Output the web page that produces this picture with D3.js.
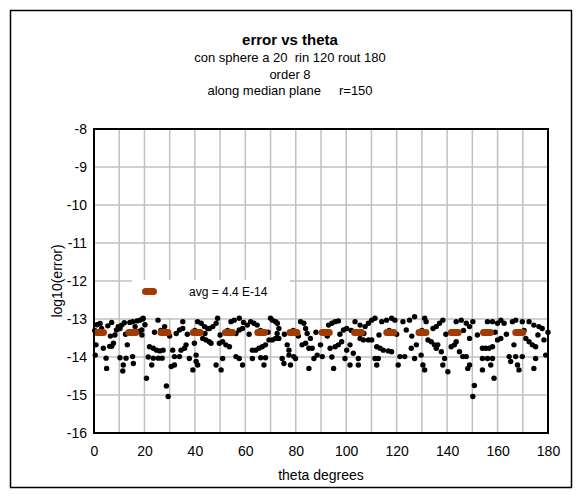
<!DOCTYPE html>
<html>
<head>
<meta charset="utf-8">
<script src="https://cdn.jsdelivr.net/npm/d3@7"></script>
<style>
  body { margin: 0; background: #fff; }
  text { font-family: "Liberation Sans", Arial, sans-serif; fill: #000; }
</style>
</head>
<body>
<svg id="chart" width="581" height="497"></svg>
<script>
// values
const thetaDeg = [
  0.3, 0.5, 0.8, 1.2, 1.8, 2.4, 3.0, 3.7, 4.8, 5.0, 5.5, 6.2, 6.5, 7.0, 7.0, 7.7, 8.3, 8.9, 9.6, 10.3,
  10.3, 11.0, 11.4, 11.6, 12.0, 12.5, 12.7, 13.2, 14.2, 15.3, 15.3, 15.6, 16.3, 17.0, 17.6, 18.2, 18.9, 19.0, 19.3, 19.5,
  20.2, 20.8, 21.5, 22.0, 22.9, 23.5, 23.5, 24.0, 24.8, 25.4, 25.5, 26.1, 26.5, 27.0, 27.4, 28.0, 28.7, 29.4,
  30.0, 30.6, 31.2, 31.9, 31.9, 32.6, 33.9, 33.9, 34.5, 35.2, 35.2, 35.9, 36.5, 37.0, 37.8, 39.2, 39.8, 40.0, 40.5, 40.5,
  41.1, 41.1, 42.5, 43.1, 43.8, 44.0, 44.4, 45.1, 45.7, 45.8, 46.4, 47.1, 48.4, 48.4, 49.0, 49.7, 50.0, 50.4, 51.0, 51.0,
  52.3, 53.0, 53.7, 54.3, 55.6, 56.3, 56.3, 57.6, 57.6, 57.6, 58.9, 58.9, 59.3,
  60.8, 61.5, 62.1, 62.8, 62.8, 63.4, 64.1, 64.7, 65.4, 66.0, 66.1, 66.7, 67.4, 68.0, 68.0, 69.0, 69.4, 70.0, 70.7, 70.7,
  72.0, 72.0, 72.6, 72.7, 73.3, 73.3, 74.6, 75.3, 75.5, 76.6, 77.3, 77.3, 77.9, 79.0, 79.2, 79.9, 81.0, 81.9, 82.5, 83.2,
  83.9, 83.9, 84.5, 85.2, 85.2, 85.8, 86.5, 87.2, 88.0, 88.5, 89.8, 90.5,
  91.6, 92.5, 93.0, 93.6, 94.3, 94.3, 95.0, 95.6, 95.6, 96.9, 96.9, 97.5, 98.2, 98.9, 99.5, 100.2, 100.2, 101.5, 101.5, 102.0,
  102.8, 103.5, 104.8, 104.8, 105.5, 105.5, 106.8, 107.0, 107.5, 108.8, 108.8, 110.1, 110.1, 111.4, 111.4, 112.1, 112.1, 112.7, 113.0, 113.4,
  114.1, 114.7, 116.0, 116.7, 117.0, 118.0, 118.0, 119.3, 120.0, 120.6, 121.3,
  122.5, 123.2, 123.8, 125.1, 125.8, 126.0, 127.1, 127.1, 127.8, 129.7, 130.0, 130.4, 131.1, 131.1, 131.7, 132.4, 133.7, 134.4, 135.0, 135.7,
  135.7, 136.3, 137.0, 137.7, 138.3, 138.3, 139.0, 139.5, 140.3, 141.6, 142.0, 142.9, 143.6, 143.6, 144.9, 145.6, 146.2, 146.5, 147.6, 147.6,
  148.2, 148.9, 148.9, 148.9, 150.2, 150.2, 150.8,
  152.0, 154.0, 154.0, 154.0, 155.3, 156.0, 156.0, 156.6, 157.3, 158.0, 158.0, 158.0, 158.6, 159.0, 160.0, 160.0, 161.3, 161.3, 162.6, 163.5,
  164.6, 165.2, 165.9, 166.5, 167.2, 167.2, 167.9, 168.5, 169.8, 169.8, 170.5, 171.2, 172.5, 172.5, 173.8, 174.4, 174.4, 175.1, 175.1, 176.0,
  176.4, 177.7, 178.4, 179.1, 180.0
];
const logError = [
  -13.30, -13.95, -13.68, -13.15, -13.35, -13.12, -13.25, -13.77, -14.03, -14.30, -13.18, -13.72, -13.45, -13.09, -13.72, -13.64, -13.42, -13.29, -13.20, -13.25,
  -14.02, -13.16, -14.37, -14.21, -13.10, -13.40, -14.03, -13.68, -13.09, -13.07, -13.99, -14.17, -13.20, -13.05, -13.33, -13.03, -13.29, -13.42, -13.00, -12.98,
  -13.15, -14.56, -14.00, -13.73, -14.21, -13.77, -14.03, -13.35, -13.82, -13.03, -14.03, -13.84, -13.30, -14.03, -13.82, -13.20, -14.76, -15.04,
  -13.45, -14.25, -13.82, -14.21, -13.99, -13.38, -13.29, -13.99, -13.82, -13.25, -13.07, -13.77, -13.68, -13.40, -14.04, -14.34, -13.64, -13.30, -13.95, -14.12,
  -14.21, -13.07, -13.11, -13.51, -13.20, -13.38, -13.55, -13.25, -13.60, -13.25, -13.64, -13.20, -13.11, -14.21, -12.98, -13.64, -13.42, -14.34, -13.60, -14.04,
  -13.68, -13.30, -13.73, -13.07, -13.03, -13.99, -13.38, -12.98, -14.04, -13.29, -14.21, -13.25, -13.09,
  -13.16, -13.40, -13.07, -13.82, -14.04, -13.11, -13.82, -13.16, -13.77, -13.30, -14.02, -13.73, -14.21, -13.68, -14.02, -13.35, -13.55, -12.98, -13.03, -13.55,
  -13.07, -13.51, -13.38, -13.11, -13.51, -13.25, -14.04, -14.17, -13.40, -13.68, -13.82, -13.95, -14.21, -13.30, -13.99, -14.04, -13.45, -13.07, -13.68, -13.11,
  -13.25, -13.64, -13.38, -13.77, -14.30, -13.51, -13.77, -14.04, -13.35, -13.95, -13.68, -13.99,
  -13.38, -13.45, -13.16, -13.77, -13.11, -14.00, -14.30, -13.07, -13.73, -13.05, -13.68, -13.40, -13.60, -13.29, -14.04, -13.25, -13.82, -13.68, -14.21, -13.30,
  -13.90, -13.07, -14.04, -14.21, -13.16, -13.51, -13.55, -13.38, -13.20, -13.11, -13.55, -13.03, -13.55, -12.98, -14.04, -14.21, -13.73, -14.04, -13.42, -13.77,
  -13.07, -13.82, -13.03, -13.84, -13.30, -12.98, -13.86, -13.03, -13.40, -14.21, -13.99,
  -13.07, -13.99, -13.29, -13.03, -13.77, -13.45, -12.94, -14.04, -13.68, -13.95, -13.30, -14.21, -14.34, -12.98, -13.07, -13.55, -13.60, -13.25, -13.68, -13.77,
  -13.20, -13.68, -13.11, -13.86, -13.03, -14.21, -14.04, -13.40, -14.39, -13.73, -13.35, -13.68, -13.60, -13.07, -13.86, -13.03, -13.99, -13.30, -13.99, -13.11,
  -14.30, -14.21, -13.20, -13.51, -13.07, -15.04, -14.75,
  -13.42, -13.77, -14.04, -14.34, -13.77, -14.04, -13.07, -13.77, -14.21, -13.73, -14.04, -13.07, -14.56, -13.35, -13.11, -13.55, -13.03, -13.51, -13.11, -13.40,
  -13.99, -14.12, -13.07, -13.68, -13.99, -13.03, -14.21, -14.34, -13.07, -13.99, -13.30, -13.51, -13.60, -13.07, -13.68, -13.16, -14.30, -13.73, -14.04, -13.42,
  -13.20, -13.25, -13.55, -13.95, -13.35
];
const avgLog = Math.log10(4.4e-14);
const avgLabel = 'avg = 4.4 E-14';
const xTicks = [0, 20, 40, 60, 80, 100, 120, 140, 160, 180];
const xGrid = d3.range(0, 181, 10);
const yTicks = [-8, -9, -10, -11, -12, -13, -14, -15, -16];
const titleLines = ['con sphere a 20  rin 120 rout 180', 'order 8', 'along median plane     r=150'];

const svg = d3.select('#chart');
const plot = { left: 94, top: 129, right: 548, bottom: 433 };

const x = d3.scaleLinear().domain([0, 180]).range([plot.left, plot.right]);
const y = d3.scaleLinear().domain([-16, -8]).range([plot.bottom, plot.top]);

// outer frame
svg.append('rect')
  .attr('x', 10.5).attr('y', 10.5)
  .attr('width', 561).attr('height', 477)
  .attr('fill', 'none').attr('stroke', '#000').attr('stroke-width', 1.5);

// titles
svg.append('text')
  .attr('x', 290).attr('y', 45)
  .attr('text-anchor', 'middle')
  .style('font-size', '15px').style('font-weight', 'bold')
  .text('error vs theta');
titleLines.forEach((t, i) => {
  svg.append('text')
    .attr('x', 290).attr('y', 62 + i * 16.5)
    .attr('text-anchor', 'middle')
    .style('font-size', '13px')
    .style('white-space', 'pre')
    .attr('xml:space', 'preserve')
    .text(t);
});

// grid
const grid = svg.append('g').attr('stroke', '#c0c0c0').attr('stroke-width', 1.5);
xGrid.forEach((d) => {
  grid.append('line')
    .attr('x1', x(d)).attr('x2', x(d))
    .attr('y1', plot.top).attr('y2', plot.bottom);
});
yTicks.forEach((d) => {
  grid.append('line')
    .attr('x1', plot.left).attr('x2', plot.right)
    .attr('y1', y(d)).attr('y2', y(d));
});

// legend background covers the grid
svg.append('rect')
  .attr('x', 132).attr('y', 280)
  .attr('width', 158).attr('height', 38)
  .attr('fill', '#fff');

// data points
svg.append('g')
  .selectAll('circle')
  .data(thetaDeg.map((t, i) => [t, logError[i]]))
  .join('circle')
  .attr('cx', (d) => x(d[0]))
  .attr('cy', (d) => y(d[1]))
  .attr('r', 2.7)
  .attr('fill', '#000');

// average line, drawn as thick rounded dashes
const avgColor = '#a33b00';
svg.append('path')
  .datum([[0, avgLog], [180, avgLog]])
  .attr('d', d3.line().x((d) => x(d[0])).y((d) => y(d[1])))
  .attr('stroke', avgColor)
  .attr('stroke-width', 7)
  .attr('stroke-linecap', 'round')
  .attr('stroke-dasharray', '7 25.25')
  .attr('stroke-dashoffset', -2.5)
  .attr('fill', 'none');

// plot frame
svg.append('rect')
  .attr('x', plot.left).attr('y', plot.top)
  .attr('width', plot.right - plot.left).attr('height', plot.bottom - plot.top)
  .attr('fill', 'none').attr('stroke', '#000').attr('stroke-width', 2);

// axes labels
const xAxis = d3.axisBottom(x).tickValues(xTicks).tickSize(0).tickPadding(13)
  .tickFormat((d) => String(d));
svg.append('g')
  .attr('transform', `translate(0,${plot.bottom})`)
  .call(xAxis)
  .call((g) => g.select('.domain').remove())
  .call((g) => g.selectAll('text').style('font-size', '14px').attr('font-family', null));

const yAxis = d3.axisLeft(y).tickValues(yTicks).tickSize(0).tickPadding(7)
  .tickFormat((d) => String(d));
svg.append('g')
  .attr('transform', `translate(${plot.left},0)`)
  .call(yAxis)
  .call((g) => g.select('.domain').remove())
  .call((g) => g.selectAll('text').style('font-size', '14px').attr('font-family', null));

svg.append('text')
  .attr('x', (plot.left + plot.right) / 2).attr('y', 480)
  .attr('text-anchor', 'middle')
  .style('font-size', '14px')
  .text('theta degrees');

svg.append('text')
  .attr('transform', `translate(62,${(plot.top + plot.bottom) / 2}) rotate(-90)`)
  .attr('text-anchor', 'middle')
  .style('font-size', '14px')
  .text('log10(error)');

// legend
svg.append('line')
  .attr('x1', 145.5).attr('x2', 153.5)
  .attr('y1', 291.5).attr('y2', 291.5)
  .attr('stroke', avgColor).attr('stroke-width', 7)
  .attr('stroke-linecap', 'round');
svg.append('text')
  .attr('x', 189).attr('y', 296)
  .style('font-size', '12px')
  .text(avgLabel);
</script>
</body>
</html>
